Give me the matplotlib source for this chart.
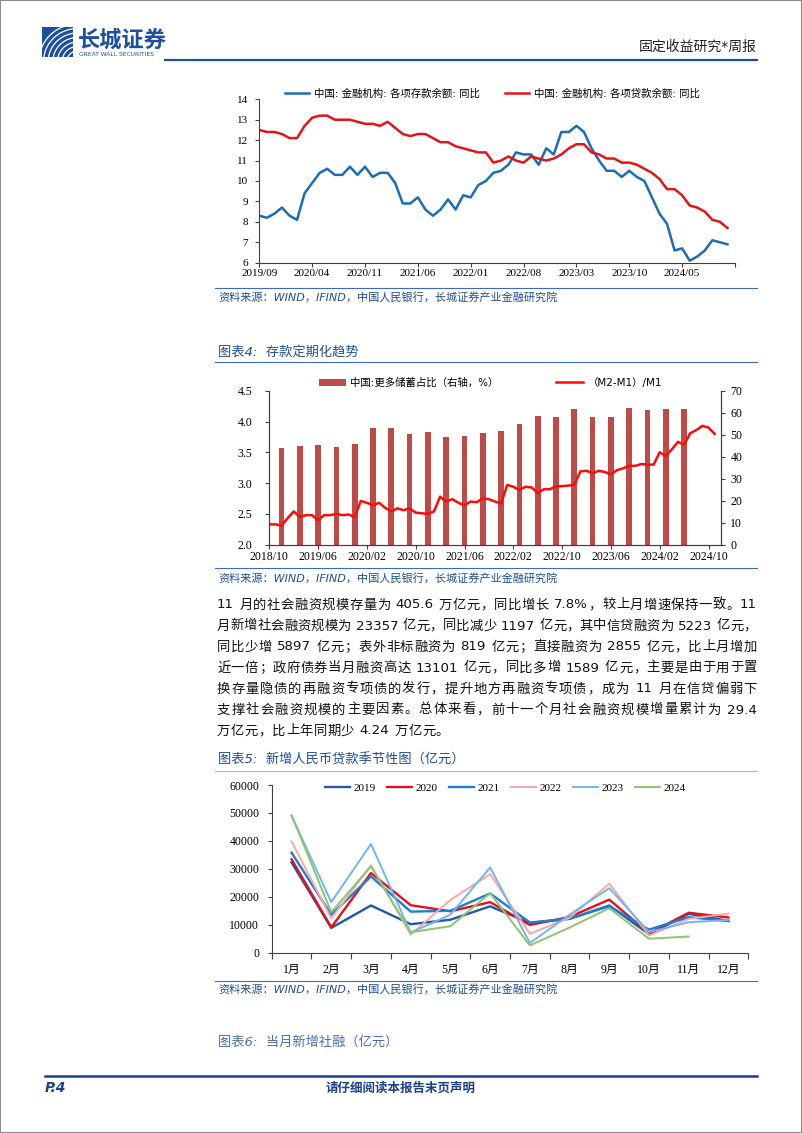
import re
import numpy as np
import matplotlib.pyplot as plt
from matplotlib.patches import Rectangle

# ----------------------------
# Data
# ----------------------------
# Chart 1: 金融机构各项存款/贷款余额同比, 2019/09 - 2024/11
deposit_yoy = [8.3, 8.2, 8.4, 8.7, 8.3, 8.1, 9.4, 9.9, 10.4, 10.6, 10.3, 10.3, 10.7,
               10.3, 10.7, 10.2, 10.4, 10.4, 9.9, 8.9, 8.9, 9.2, 8.6, 8.3, 8.6, 9.1,
               8.6, 9.3, 9.2, 9.8, 10.0, 10.4, 10.5, 10.8, 11.4, 11.3, 11.3, 10.8,
               11.6, 11.3, 12.4, 12.4, 12.7, 12.4, 11.6, 11.0, 10.5, 10.5, 10.2, 10.5,
               10.2, 10.0, 9.2, 8.4, 7.9, 6.6, 6.7, 6.1, 6.3, 6.6, 7.1, 7.0, 6.9]
loan_yoy = [12.5, 12.4, 12.4, 12.3, 12.1, 12.1, 12.7, 13.1, 13.2, 13.2, 13.0, 13.0, 13.0,
            12.9, 12.8, 12.8, 12.7, 12.9, 12.6, 12.3, 12.2, 12.3, 12.3, 12.1, 11.9, 11.9,
            11.7, 11.6, 11.5, 11.4, 11.4, 10.9, 11.0, 11.2, 11.0, 10.9, 11.2, 11.1, 11.0,
            11.1, 11.3, 11.6, 11.8, 11.8, 11.4, 11.3, 11.1, 11.1, 10.9, 10.9, 10.8, 10.6,
            10.4, 10.1, 9.6, 9.6, 9.3, 8.8, 8.7, 8.5, 8.1, 8.0, 7.7]
c1_labels = ['2019/09', '2020/04', '2020/11', '2021/06', '2022/01', '2022/08',
             '2023/03', '2023/10', '2024/05', '']

# Chart 2: (M2-M1)/M1 monthly 2018/10 - 2024/11, 更多储蓄占比 quarterly 2018/12 - 2024/06
m2m1_ratio = [2.33, 2.33, 2.31, 2.43, 2.54, 2.45, 2.48, 2.48, 2.40, 2.48, 2.48, 2.50,
              2.48, 2.49, 2.45, 2.71, 2.68, 2.64, 2.68, 2.60, 2.54, 2.59, 2.56, 2.59,
              2.52, 2.51, 2.50, 2.54, 2.78, 2.70, 2.74, 2.68, 2.64, 2.70, 2.69, 2.75,
              2.74, 2.70, 2.67, 2.97, 2.94, 2.89, 2.94, 2.93, 2.84, 2.90, 2.90, 2.95,
              2.95, 2.96, 2.97, 3.19, 3.20, 3.16, 3.20, 3.18, 3.14, 3.21, 3.24, 3.28,
              3.28, 3.31, 3.30, 3.30, 3.50, 3.44, 3.55, 3.67, 3.62, 3.81, 3.86, 3.93,
              3.90, 3.80]
savings_share = [43.9, 44.8, 45.3, 44.4, 45.8, 52.9, 52.9, 50.3, 51.2, 48.9, 49.4, 50.8,
                 51.7, 55.0, 58.5, 58.2, 61.7, 58.2, 58.2, 62.1, 61.2, 61.7, 61.7]
c2_labels = ['2018/10', '2019/06', '2020/02', '2020/10', '2021/06', '2022/02',
             '2022/10', '2023/06', '2024/02', '2024/10']

# Chart 3: 新增人民币贷款 (亿元)
months_cn = ['1月', '2月', '3月', '4月', '5月', '6月', '7月', '8月', '9月', '10月', '11月', '12月']
loans_2019 = [32300, 8858, 16900, 10200, 11800, 16600, 10600, 12100, 16900, 6613, 13900, 11400]
loans_2020 = [33400, 9057, 28500, 17000, 14800, 18100, 9927, 12800, 19000, 6898, 14300, 12600]
loans_2021 = [35800, 13600, 27300, 14700, 15000, 21200, 10800, 12200, 16600, 8262, 12700, 11300]
loans_2022 = [39800, 12300, 31300, 6454, 18900, 28100, 6790, 12500, 24700, 6152, 12100, 14000]
loans_2023 = [49000, 18100, 38900, 7188, 13600, 30500, 3459, 13600, 23100, 7384, 10900, 11700]
loans_2024 = [49200, 14500, 30900, 7300, 9500, 21300, 2600, 9000, 15900, 5000, 5800]

para_lines = [
    '11 月的社会融资规模存量为 405.6 万亿元，同比增长 7.8%，较上月增速保持一致。11',
    '月新增社会融资规模为 23357 亿元，同比减少 1197 亿元，其中信贷融资为 5223 亿元，',
    '同比少增 5897 亿元；表外非标融资为 819 亿元；直接融资为 2855 亿元，比上月增加',
    '近一倍；政府债券当月融资高达 13101 亿元，同比多增 1589 亿元，主要是由于用于置',
    '换存量隐债的再融资专项债的发行，提升地方再融资专项债，成为 11 月在信贷偏弱下',
    '支撑社会融资规模的主要因素。总体来看，前十一个月社会融资规模增量累计为 29.4',
    '万亿元，比上年同期少 4.24 万亿元。',
]

# ----------------------------
# Page helpers (pixel coordinates, origin top-left)
# ----------------------------
W, H = 802, 1133
CJK = ['DejaVu Sans', 'Noto Sans CJK SC']
SERIF = ['Liberation Serif', 'Noto Sans CJK SC']
plt.rcParams['font.family'] = CJK
BLUE = '#1F4E9A'

fig = plt.figure(figsize=(W / 100, H / 100), dpi=100)


def px_axes(x0, y0, x1, y1):
    return fig.add_axes([x0 / W, 1 - y1 / H, (x1 - x0) / W, (y1 - y0) / H])


def px_text(x, y, s, **kw):
    kw.setdefault('va', 'center')
    return fig.text(x / W, 1 - y / H, s, **kw)


def px_hline(x0, x1, y, **kw):
    fig.add_artist(plt.Line2D([x0 / W, x1 / W], [1 - y / H, 1 - y / H], **kw))


def style_ax(ax, size=8.5):
    ax.tick_params(labelsize=size, direction='out', length=3, width=0.8, color='#404040')
    for lbl in ax.get_xticklabels() + ax.get_yticklabels():
        lbl.set_family(SERIF)
    for s in ax.spines.values():
        s.set_color('#404040')
        s.set_linewidth(0.8)


# page border
fig.add_artist(Rectangle((0, 0), 1, 1, transform=fig.transFigure, fill=False,
                         edgecolor='#8c8c8c', lw=1.5))

# ----------------------------
# Header / logo
# ----------------------------
logo = px_axes(42, 27, 73, 57)
logo.set_facecolor('#1D4FA0')
t = np.linspace(0, np.pi, 100)
for r in np.linspace(0.35, 1.25, 7):
    logo.plot(1.15 + r * np.cos(t), -0.15 + r * np.sin(t), color='white', lw=0.9)
logo.set_xlim(0, 1)
logo.set_ylim(0, 1)
logo.set_xticks([])
logo.set_yticks([])
for s in logo.spines.values():
    s.set_visible(False)

px_text(78, 40, '长城证券', fontsize=16, fontweight='bold', color='#1D4FA0')
px_text(79, 55, 'GREAT WALL SECURITIES', fontsize=4.3, color='#1D4FA0')
px_text(757, 47, '固定收益研究*周报', fontsize=10, ha='right', color='#222222')
px_hline(165, 757, 60, color='#1D4FA0', lw=1.6)

# ----------------------------
# Chart 1: 存贷款同比
# ----------------------------
ax1 = px_axes(259.3, 99.3, 735, 262.7)
x1 = np.arange(len(deposit_yoy))
ax1.plot(x1, deposit_yoy, color='#1B6DB5', lw=1.8, label='中国: 金融机构: 各项存款余额: 同比')
ax1.plot(x1, loan_yoy, color='#E6121A', lw=1.8, label='中国: 金融机构: 各项贷款余额: 同比')
ax1.set_xlim(0, 63)
ax1.set_ylim(6, 14)
ax1.set_xticks(np.arange(0, 64, 7))
ax1.set_xticklabels(c1_labels)
ax1.set_yticks(np.arange(6, 15, 1))
ax1.spines['top'].set_visible(False)
ax1.spines['right'].set_visible(False)
style_ax(ax1, 8)
ax1.tick_params(axis='y', pad=5)
ax1.tick_params(axis='x', pad=1.5)
ax1.legend(loc='lower center', bbox_to_anchor=(0.49, 0.98), ncol=2, frameon=False,
           fontsize=7.5, handlelength=2.3, handletextpad=0.5, columnspacing=2.4,
           borderaxespad=0)

px_hline(215, 757, 288, color='#3A6BC0', lw=0.8)
px_text(218, 297, '资料来源：WIND，IFIND，中国人民银行，长城证券产业金融研究院',
        fontsize=8, color=BLUE, style='italic')

# ----------------------------
# Chart 2: 存款定期化趋势
# ----------------------------
px_text(218, 352, '图表4:  存款定期化趋势', fontsize=9.5, color=BLUE, style='italic')
px_hline(215, 757, 362, color='#3A6BC0', lw=0.8)

ax2 = px_axes(269.3, 390.7, 720.7, 544.7)
ax2r = ax2.twinx()
bar_x = np.arange(2, 2 + 3 * len(savings_share), 3)
bars = ax2r.bar(bar_x, savings_share, width=0.95, color='#BE4B48',
                label='中国:更多储蓄占比（右轴，%）')
x2 = np.arange(len(m2m1_ratio))
line, = ax2.plot(x2, m2m1_ratio, color='#FF0A0A', lw=1.8, label='（M2-M1）/M1')
ax2.set_zorder(ax2r.get_zorder() + 1)
ax2.patch.set_visible(False)
ax2.set_xlim(0, 74)
ax2.set_ylim(2.0, 4.5)
ax2r.set_ylim(0, 70)
ax2.set_xticks(np.arange(0, 73, 8))
ax2.set_xticklabels(c2_labels)
ax2.set_yticks(np.arange(2.0, 4.51, 0.5))
ax2.set_yticklabels([f'{v:.1f}' for v in np.arange(2.0, 4.51, 0.5)])
ax2r.set_yticks(np.arange(0, 71, 10))
for a in (ax2, ax2r):
    a.spines['top'].set_visible(False)
    style_ax(a)
ax2.tick_params(axis='y', pad=9)
ax2r.tick_params(axis='y', pad=4)
ax2.tick_params(axis='x', pad=1.5)
ax2.legend([bars, line], [bars.get_label(), line.get_label()], loc='lower center',
           bbox_to_anchor=(0.49, 0.99), ncol=2, frameon=False, fontsize=7.5,
           handlelength=2.6, handletextpad=0.4, columnspacing=5.5, borderaxespad=0)

px_hline(215, 757, 568, color='#3A6BC0', lw=0.8)
px_text(218, 578, '资料来源：WIND，IFIND，中国人民银行，长城证券产业金融研究院',
        fontsize=8, color=BLUE, style='italic')

# ----------------------------
# Paragraph (justified)
# ----------------------------
renderer = fig.canvas.get_renderer()
para_size = 9.6
space_px = 0.33 * para_size * 100 / 72
for i, s in enumerate(para_lines):
    y = 605 + i * 21
    parts = re.findall(r'[0-9A-Za-z.%]+|.', s)
    items = []
    for p in parts:
        if p == ' ':
            items.append((None, space_px))
        else:
            tx = px_text(0, y, p, fontsize=para_size, color='#111111')
            items.append((tx, tx.get_window_extent(renderer).width))
    natural = sum(w for _, w in items)
    gap = (757 - 217 - natural) / (len(items) - 1) if i < len(para_lines) - 1 else 0.4
    x = 217
    for tx, w in items:
        if tx is not None:
            tx.set_x(x / W)
        x += w + gap

# ----------------------------
# Chart 3: 新增人民币贷款季节性
# ----------------------------
px_text(218, 760, '图表5:  新增人民币贷款季节性图（亿元）', fontsize=9.5, color=BLUE, style='italic')
px_hline(215, 757, 771, color='#9DB5E0', lw=0.8)

ax3 = px_axes(271.7, 785, 748.3, 952.7)
x3 = np.arange(12)
series3 = [('2019', loans_2019, '#1F5AA6', 1.7),
           ('2020', loans_2020, '#E3111B', 1.7),
           ('2021', loans_2021, '#1A7FD6', 1.7),
           ('2022', loans_2022, '#F7A8A8', 1.4),
           ('2023', loans_2023, '#70B6EE', 1.4),
           ('2024', loans_2024, '#8DC46E', 1.4)]
for name, vals, color, lw in series3:
    ax3.plot(x3[:len(vals)], vals, color=color, lw=lw, label=name)
ax3.set_xlim(-0.5, 11.5)
ax3.set_ylim(0, 60000)
ax3.set_yticks(np.arange(0, 60001, 10000))
ax3.set_xticks(x3)
ax3.set_xticklabels(months_cn)
ax3.set_xticks(np.arange(-0.5, 12, 1), minor=True)
ax3.spines['top'].set_visible(False)
ax3.spines['right'].set_visible(False)
style_ax(ax3)
ax3.tick_params(axis='x', which='major', length=0, pad=8)
ax3.tick_params(axis='x', which='minor', length=4, width=0.8, color='#404040')
ax3.tick_params(axis='y', pad=6)
leg3 = ax3.legend(loc='upper center', bbox_to_anchor=(0.49, 1.04), ncol=6, frameon=False,
                  fontsize=8, handlelength=2.3, handletextpad=0.3, columnspacing=1.0,
                  borderaxespad=0)
for txt in leg3.get_texts():
    txt.set_family(SERIF)

px_hline(215, 757, 981, color='#3A6BC0', lw=0.8)
px_text(218, 989, '资料来源：WIND，IFIND，中国人民银行，长城证券产业金融研究院',
        fontsize=8, color=BLUE, style='italic')

px_text(218, 1042, '图表6:  当月新增社融（亿元）', fontsize=9.5, color='#4A6FB0', style='italic')

# ----------------------------
# Footer
# ----------------------------
px_hline(45, 757, 1076, color='#1D3F8F', lw=1.8)
px_text(45, 1088, 'P.4', fontsize=10, fontweight='bold', style='italic', color='#1D3F8F')
px_text(401, 1088, '请仔细阅读本报告末页声明', fontsize=9, fontweight='bold', ha='center',
        color='#1D3F8F')

fig.savefig('out.png', dpi=100)
